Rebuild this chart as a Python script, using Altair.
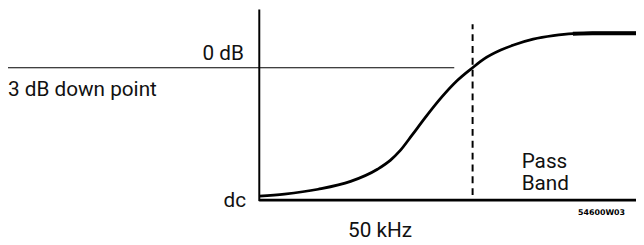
import altair as alt
import pandas as pd

# Frequency response curve (x: kHz from dc, y: response level, 100 = pass band)
curve_khz = [0, 5.9, 13.8, 21.4, 27.7, 30.7, 33.0, 35.8, 38.8, 42.7, 46.4, 50.0,
             52.7, 56.6, 59.6, 64.2, 68.9, 73.5, 78.1, 88.3]
curve_level = [2.4, 3.6, 6.5, 11.2, 18.5, 23.8, 29.6, 38.9, 49.1, 61.5, 71.6, 79.3,
               84.6, 89.9, 92.9, 96.4, 98.5, 99.7, 100, 100]

# flat pass-band segment (drawn heavier in the figure)
flat_khz = [73.5, 78.1, 88.3]
flat_level = [99.7, 100, 100]

cutoff_khz = 50.0
level_3db = 79.3

X_DOMAIN = [-58.9, 88.3]
Y_DOMAIN = [-26.0, 114.2]

xs = alt.Scale(domain=X_DOMAIN, nice=False, zero=False)
ys = alt.Scale(domain=Y_DOMAIN, nice=False, zero=False)

curve = pd.DataFrame({"f": curve_khz, "lvl": curve_level})
flat = pd.DataFrame({"f": flat_khz, "lvl": flat_level})

rules = pd.DataFrame({
    "x": [0, 0, X_DOMAIN[0]],
    "x2": [0, X_DOMAIN[1], 45.7],
    "y": [-0.6, 0, level_3db],
    "y2": [114.2, 0, level_3db],
    "w": [2, 3, 1.2],
})

dashed = pd.DataFrame({"x": [cutoff_khz], "y": [3.0], "y2": [105.3]})

left_labels = pd.DataFrame({
    "x": [X_DOMAIN[0], 20.8, 61.5, 61.5],
    "y": [62.4, -22.0, 19.5, 5.9],
    "t": ["3 dB down point", "50 kHz", "Pass", "Band"],
})
right_labels = pd.DataFrame({
    "x": [-3.6, -3.1],
    "y": [84.0, -4.0],
    "t": ["0 dB", "dc"],
})
code_label = pd.DataFrame({"x": [74.7], "y": [-9.2], "t": ["54600W03"]})

base_font = "Roboto"

rule_layer = alt.Chart(rules).mark_rule(color="black").encode(
    x=alt.X("x:Q", scale=xs, axis=None),
    x2="x2:Q",
    y=alt.Y("y:Q", scale=ys, axis=None),
    y2="y2:Q",
    strokeWidth=alt.StrokeWidth("w:Q", scale=None, legend=None),
)

dash_layer = alt.Chart(dashed).mark_rule(color="black", strokeWidth=2, strokeDash=[7, 5]).encode(
    x=alt.X("x:Q", scale=xs, axis=None),
    y=alt.Y("y:Q", scale=ys, axis=None),
    y2="y2:Q",
)

curve_layer = alt.Chart(curve).mark_line(color="black", strokeWidth=2.8, interpolate="monotone").encode(
    x=alt.X("f:Q", scale=xs, axis=None),
    y=alt.Y("lvl:Q", scale=ys, axis=None),
)

flat_layer = alt.Chart(flat).mark_line(color="black", strokeWidth=4, interpolate="monotone").encode(
    x=alt.X("f:Q", scale=xs, axis=None),
    y=alt.Y("lvl:Q", scale=ys, axis=None),
)

left_text = alt.Chart(left_labels).mark_text(
    align="left", baseline="alphabetic", font=base_font, fontSize=21, color="#111"
).encode(
    x=alt.X("x:Q", scale=xs, axis=None),
    y=alt.Y("y:Q", scale=ys, axis=None),
    text="t:N",
)

right_text = alt.Chart(right_labels).mark_text(
    align="right", baseline="alphabetic", font=base_font, fontSize=21, color="#111"
).encode(
    x=alt.X("x:Q", scale=xs, axis=None),
    y=alt.Y("y:Q", scale=ys, axis=None),
    text="t:N",
)

code_text = alt.Chart(code_label).mark_text(
    align="left", baseline="alphabetic", font="DejaVu Sans", fontSize=8, fontWeight="bold", color="black"
).encode(
    x=alt.X("x:Q", scale=xs, axis=None),
    y=alt.Y("y:Q", scale=ys, axis=None),
    text="t:N",
)

chart = alt.layer(
    rule_layer, dash_layer, curve_layer, flat_layer, left_text, right_text, code_text
).properties(
    width=636, height=237, padding=0,
    autosize=alt.AutoSizeParams(type="none"),
    background="white",
).configure_view(stroke=None)

chart.save("out.html", embed_options={"renderer": "svg", "actions": False})
